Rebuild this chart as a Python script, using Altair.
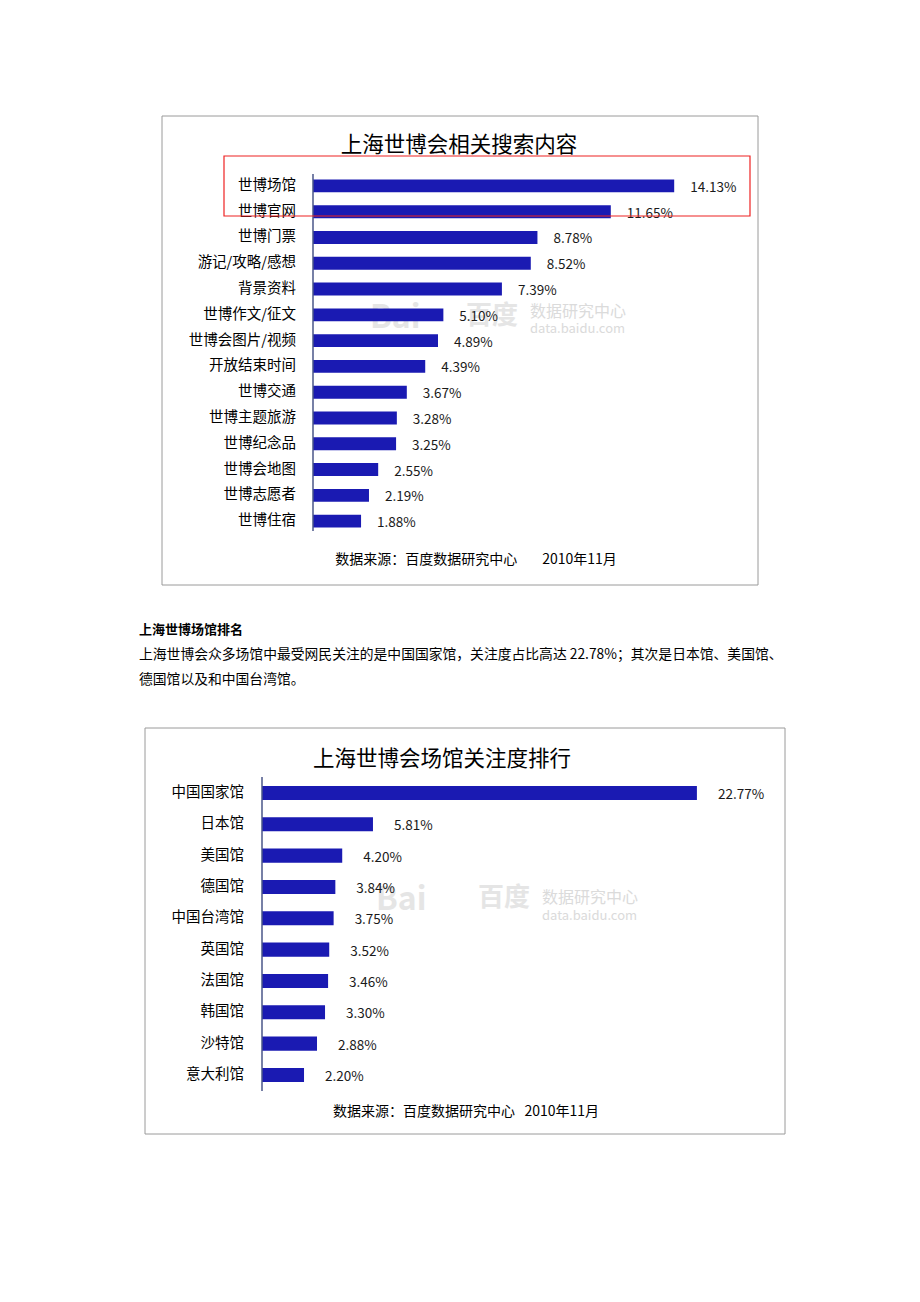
import altair as alt
import pandas as pd

# ---------------- data ----------------
cats1 = ["世博场馆", "世博官网", "世博门票", "游记/攻略/感想", "背景资料", "世博作文/征文",
         "世博会图片/视频", "开放结束时间", "世博交通", "世博主题旅游", "世博纪念品",
         "世博会地图", "世博志愿者", "世博住宿"]
vals1 = [14.13, 11.65, 8.78, 8.52, 7.39, 5.10, 4.89, 4.39, 3.67, 3.28, 3.25, 2.55, 2.19, 1.88]

cats2 = ["中国国家馆", "日本馆", "美国馆", "德国馆", "中国台湾馆", "英国馆", "法国馆",
         "韩国馆", "沙特馆", "意大利馆"]
vals2 = [22.77, 5.81, 4.20, 3.84, 3.75, 3.52, 3.46, 3.30, 2.88, 2.20]

NB = "\u00a0"
title1 = "上海世博会相关搜索内容"
title2 = "上海世博会场馆关注度排行"
footer1 = "数据来源：百度数据研究中心" + NB * 8 + "2010年11月"
footer2 = "数据来源：百度数据研究中心" + NB * 3 + "2010年11月"
heading = "上海世博场馆排名"
para1 = "上海世博会众多场馆中最受网民关注的是中国国家馆，关注度占比高达 22.78%；其次是日本馆、美国馆、"
para2 = "德国馆以及和中国台湾馆。"

FONT = "Noto Sans CJK SC"
BAR = "#1a1ab2"

df1 = pd.DataFrame({"cat": cats1, "val": vals1})
df1["lab"] = df1["val"].map(lambda v: f"{v:.2f}%")
df2 = pd.DataFrame({"cat": cats2, "val": vals2})
df2["lab"] = df2["val"].map(lambda v: f"{v:.2f}%")


def txt(s, x, y, size, align="left", weight="normal", color="#000000", opacity=1.0):
    return alt.Chart(pd.DataFrame({"t": [s]})).mark_text(
        font=FONT, fontSize=size, align=align, baseline="middle",
        fontWeight=weight, color=color, opacity=opacity
    ).encode(text="t:N", x=alt.value(x), y=alt.value(y))


def box(x0, y0, x1, y1, color, width=1.0):
    return alt.Chart(pd.DataFrame({"a": [0]})).mark_rect(
        fill=None, stroke=color, strokeWidth=width
    ).encode(x=alt.value(x0), x2=alt.value(x1), y=alt.value(y0), y2=alt.value(y1))


def vline(x, y0, y1, color="#4a5688", width=1.5):
    return alt.Chart(pd.DataFrame({"a": [0]})).mark_rule(
        color=color, strokeWidth=width
    ).encode(x=alt.value(x), y=alt.value(y0), y2=alt.value(y1))


def bar_panel(df, cats, xdom, xrange, yrange, pin, pout, label_x, dx):
    ysc = alt.Scale(domain=cats, range=yrange, paddingInner=pin, paddingOuter=pout)
    xsc = alt.Scale(domain=xdom, range=xrange, nice=False, zero=True)
    base = alt.Chart(df)
    bars = base.mark_bar(color=BAR).encode(
        y=alt.Y("cat:N", scale=ysc, axis=None, sort=cats),
        x=alt.X("val:Q", scale=xsc, axis=None),
    )
    vlab = base.mark_text(font=FONT, fontSize=13.5, align="left", baseline="middle",
                          dx=dx, dy=2, color="#1a1a1a").encode(
        y=alt.Y("cat:N", scale=ysc, axis=None, sort=cats),
        x=alt.X("val:Q", scale=xsc, axis=None),
        text="lab:N",
    )
    clab = base.mark_text(font=FONT, fontSize=14.5, align="right", baseline="middle",
                          color="#000000").encode(
        y=alt.Y("cat:N", scale=ysc, axis=None, sort=cats),
        x=alt.value(label_x),
        text="cat:N",
    )
    return alt.layer(bars, vlab, clab)


panel1 = bar_panel(df1, cats1, [0, 16], [313, 722], [173, 534], 0.5, 0.25, 296, 16)
panel2 = bar_panel(df2, cats2, [0, 25], [262, 739.5], [777.3, 1090.6], 0.55, 0.275, 244, 21)

WM = "#cccccc"
decor = [
    box(162, 116, 758, 585, "#9a9a9a"),
    box(145, 728, 785, 1134, "#9a9a9a"),
    # watermarks
    txt("Bai", 370, 318, 32, weight="bold", color=WM, opacity=0.5),
    txt("百度", 466, 316, 26, weight="bold", color=WM, opacity=0.5),
    txt("数据研究中心", 530, 312, 16, color=WM, opacity=0.7),
    txt("data.baidu.com", 530, 329, 13, color=WM, opacity=0.7),
    txt("Bai", 376, 900, 32, weight="bold", color=WM, opacity=0.5),
    txt("百度", 478, 898, 26, weight="bold", color=WM, opacity=0.5),
    txt("数据研究中心", 542, 898, 16, color=WM, opacity=0.7),
    txt("data.baidu.com", 542, 916, 13, color=WM, opacity=0.7),
]

front = [
    vline(313, 174, 531),
    vline(262, 777, 1091),
    box(224, 156, 750, 216, "#ee2222", 1.2),
    txt(title1, 459, 146, 21.5, align="center"),
    txt(title2, 442, 760, 21.5, align="center"),
    txt(footer1, 476, 560, 14, align="center"),
    txt(footer2, 466, 1112, 14, align="center"),
    txt(heading, 139, 630, 13, weight="bold"),
    txt(para1, 139, 655, 13.8),
    txt(para2, 139, 680, 13.8),
]

chart = alt.layer(*decor, panel1, panel2, *front).resolve_scale(
    x="independent", y="independent"
).properties(
    width=920, height=1302, autosize=alt.AutoSizeParams(type="none"), padding=0,
    background="#ffffff"
).configure_view(stroke=None)

chart.save("out.html", embed_options={"renderer": "svg", "actions": False})
